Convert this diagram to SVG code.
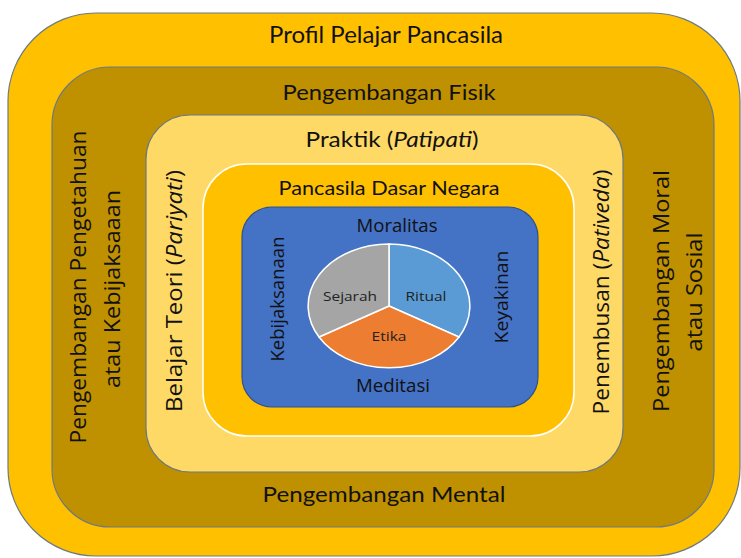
<svg xmlns="http://www.w3.org/2000/svg" width="741" height="558" viewBox="0 0 741 558">
<style>
.h{font-family:Lato,"Open Sans","Liberation Sans",sans-serif;fill:#111;text-anchor:middle}
.v{font-family:"Open Sans","Noto Sans","Liberation Sans",sans-serif;fill:#111;text-anchor:middle}
.p{font-family:"Open Sans","Noto Sans","Liberation Sans",sans-serif;fill:#222;text-anchor:middle;font-size:13px}
.i{font-style:italic}
.frame{stroke:#6d7a80;stroke-width:1.2}
</style>
<g id="profil">
<rect class="frame" x="8" y="13" width="732" height="543" rx="88" ry="88" fill="#FFC000"/>
<text class="h" x="386" y="43" font-size="23" textLength="234" lengthAdjust="spacingAndGlyphs">Profil Pelajar Pancasila</text>
</g>
<g id="pengembangan">
<rect class="frame" x="52" y="67" width="662" height="460" rx="58" ry="58" fill="#BF9000"/>
<text class="h" x="389" y="100" font-size="22" textLength="213" lengthAdjust="spacingAndGlyphs">Pengembangan Fisik</text>
<text class="h" x="384" y="502" font-size="22" textLength="243" lengthAdjust="spacingAndGlyphs">Pengembangan Mental</text>
<text class="v" transform="translate(86,287) rotate(-90)" font-size="22" textLength="313" lengthAdjust="spacingAndGlyphs">Pengembangan Pengetahuan</text>
<text class="v" transform="translate(120,289) rotate(-90)" font-size="22" textLength="198" lengthAdjust="spacingAndGlyphs">atau Kebijaksaaan</text>
<text class="v" transform="translate(669,291) rotate(-90)" font-size="22" textLength="242" lengthAdjust="spacingAndGlyphs">Pengembangan Moral</text>
<text class="v" transform="translate(702,292) rotate(-90)" font-size="22" textLength="119" lengthAdjust="spacingAndGlyphs">atau Sosial</text>
</g>
<g id="praktik">
<rect class="frame" x="146" y="115" width="477" height="357" rx="44" ry="44" fill="#FFD966"/>
<text class="h" x="392" y="147" font-size="22" textLength="173" lengthAdjust="spacingAndGlyphs">Praktik (<tspan class="i">Patipati</tspan>)</text>
<text class="v" transform="translate(182,291) rotate(-90)" font-size="22" textLength="242" lengthAdjust="spacingAndGlyphs">Belajar Teori (<tspan class="i">Pariyati</tspan>)</text>
<text class="v" transform="translate(609,292) rotate(-90)" font-size="22" textLength="245" lengthAdjust="spacingAndGlyphs">Penembusan (<tspan class="i">Pativeda</tspan>)</text>
</g>
<g id="pancasila">
<rect x="203" y="164" width="371" height="272" rx="44" ry="44" fill="#FFC000" stroke="#ffffff" stroke-width="1.5"/>
<text class="h" x="389" y="195" font-size="19" textLength="221" lengthAdjust="spacingAndGlyphs">Pancasila Dasar Negara</text>
</g>
<g id="inti">
<rect x="242" y="207" width="296" height="200" rx="30" ry="30" fill="#4472C4" stroke="#2F528F" stroke-width="1.2"/>
<text class="v" x="397" y="232" font-size="18" textLength="81" lengthAdjust="spacingAndGlyphs">Moralitas</text>
<text class="v" x="393" y="392" font-size="18" textLength="74" lengthAdjust="spacingAndGlyphs">Meditasi</text>
<text class="v" transform="translate(284,299) rotate(-90)" font-size="18" textLength="125" lengthAdjust="spacingAndGlyphs">Kebijaksanaan</text>
<text class="v" transform="translate(508,297) rotate(-90)" font-size="18" textLength="93" lengthAdjust="spacingAndGlyphs">Keyakinan</text>
</g>
<g id="pie" stroke="#ffffff" stroke-width="1.5">
<path d="M389,306 L389,244 A81,62 0 0 1 459,337 Z" fill="#5B9BD5"/>
<path d="M389,306 L459,337 A81,62 0 0 1 319,337 Z" fill="#ED7D31"/>
<path d="M389,306 L319,337 A81,62 0 0 1 389,244 Z" fill="#A5A5A5"/>
</g>
<g id="pie-labels">
<text class="p" x="350" y="301" textLength="54" lengthAdjust="spacingAndGlyphs">Sejarah</text>
<text class="p" x="426" y="301" textLength="41" lengthAdjust="spacingAndGlyphs">Ritual</text>
<text class="p" x="389" y="341" textLength="35" lengthAdjust="spacingAndGlyphs">Etika</text>
</g>
<g id="connectors"/>
</svg>
